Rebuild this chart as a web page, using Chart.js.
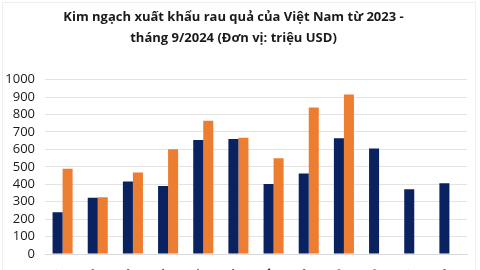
<!DOCTYPE html>
<html>
<head>
<meta charset="utf-8">
<script src="https://cdn.jsdelivr.net/npm/chart.js@4"></script>
<style>
  html, body { margin: 0; padding: 0; background: #fff; overflow: hidden; }
  #wrap { position: relative; width: 480px; height: 314px; }
  #frame { position: absolute; left: 2px; top: 2px; width: 472px; height: 320px;
    border: 1px solid #efefef; pointer-events: none; }
</style>
</head>
<body>
<div id="wrap"><canvas id="chart"></canvas><div id="frame"></div></div>
<script>
const months = ["Tháng 1", "Tháng 2", "Tháng 3", "Tháng 4", "Tháng 5", "Tháng 6",
  "Tháng 7", "Tháng 8", "Tháng 9", "Tháng 10", "Tháng 11", "Tháng 12"];
const values2023 = [240, 323, 416, 390, 654, 660, 401, 462, 663, 605, 371, 405];
const values2024 = [489, 325, 468, 601, 764, 667, 549, 840, 914];
const yTicks = [0, 100, 200, 300, 400, 500, 600, 700, 800, 900, 1000];

const ctx = document.getElementById("chart");
new Chart(ctx, {
  type: "bar",
  data: {
    labels: months,
    datasets: [
      {
        label: "2023",
        data: values2023,
        backgroundColor: "#0b2260",
        categoryPercentage: 0.57,
        barPercentage: 1,
      },
      {
        label: "2024",
        data: values2024,
        backgroundColor: "#ed7d31",
        categoryPercentage: 0.57,
        barPercentage: 1,
      },
    ],
  },
  options: {
    responsive: true,
    maintainAspectRatio: false,
    animation: false,
    layout: { padding: { top: 4, right: 13, left: 0, bottom: 0 } },
    scales: {
      y: {
        min: 0,
        max: 1000,
        afterBuildTicks: (scale) => {
          scale.ticks = yTicks.map((v) => ({ value: v }));
        },
        afterFit: (scale) => { scale.width = 45; },
        border: { display: false },
        grid: { color: "#e3e3e3", drawTicks: false },
        ticks: {
          autoSkip: false,
          color: "#1a1a1a",
          font: { family: "Open Sans", size: 13 },
          padding: 10,
          callback: (value) => String(value),
        },
      },
      x: {
        afterFit: (scale) => { scale.height = 60; },
        border: { color: "#d9d9d9" },
        grid: { display: false, drawTicks: false },
        ticks: {
          autoSkip: false,
          color: "#1a1a1a",
          font: { family: "Open Sans", size: 13 },
          minRotation: 45,
          maxRotation: 45,
          padding: 12,
        },
      },
    },
    plugins: {
      legend: { display: false },
      tooltip: { enabled: false },
      title: {
        display: true,
        text: ["Kim ngạch xuất khẩu rau quả của Việt Nam từ 2023 -", "tháng 9/2024 (Đơn vị: triệu USD)"],
        color: "#1a1a1a",
        font: { family: "Open Sans", size: 13, weight: "bold", lineHeight: 1.6 },
        padding: { top: 3, bottom: 31 },
      },
    },
  },
});
</script>
</body>
</html>
